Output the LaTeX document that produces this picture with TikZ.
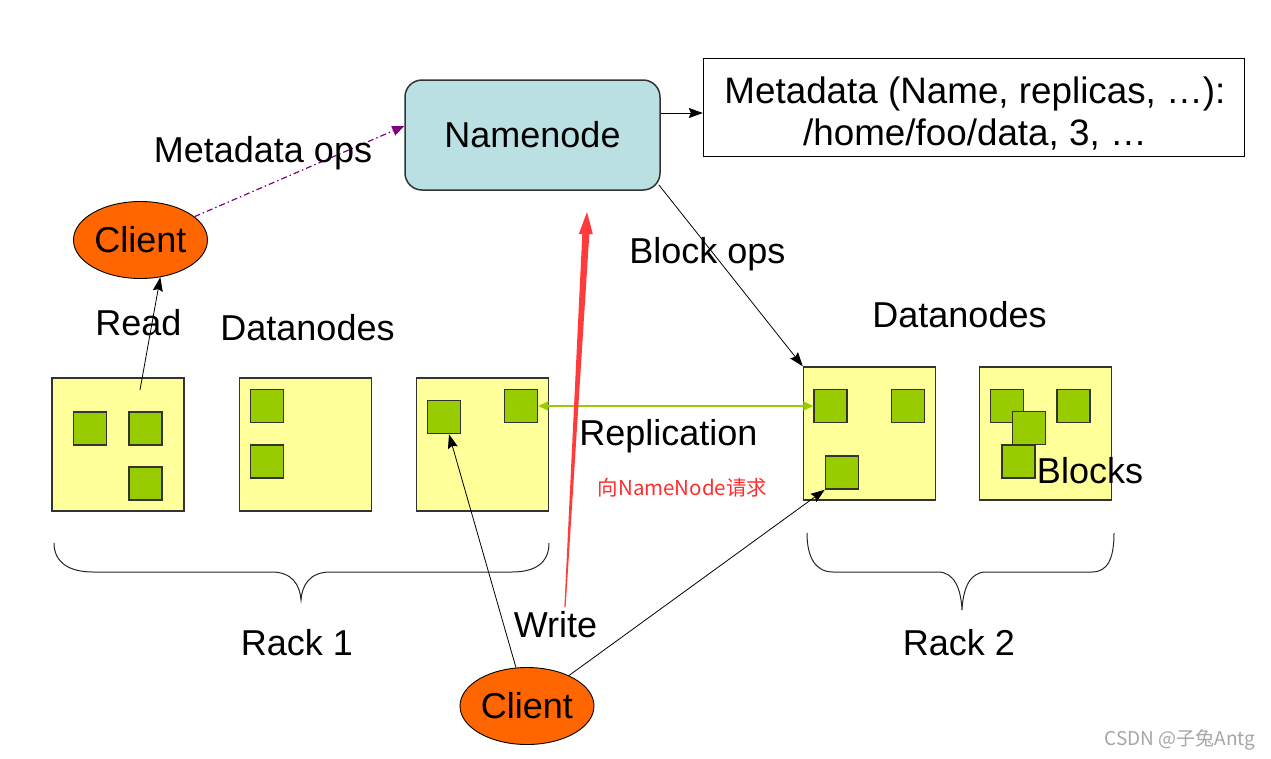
\documentclass[tikz,border=0pt]{standalone}
\usepackage{fontspec}
\setmainfont{Liberation Sans}
\newfontfamily\cjk{Noto Sans CJK SC}
\usetikzlibrary{arrows.meta,shapes.geometric,calc}
\definecolor{nnfill}{HTML}{BBE0E3}
\definecolor{ybox}{HTML}{FFFF99}
\definecolor{gblk}{HTML}{99CC00}
\definecolor{orng}{HTML}{FF6600}
\definecolor{edgec}{HTML}{333333}
\definecolor{purp}{HTML}{800080}
\definecolor{gline}{HTML}{99CC00}
\definecolor{redarr}{HTML}{FF3B3B}
\definecolor{redtxt}{HTML}{FF2D2D}
\definecolor{wm}{HTML}{A6A6A6}
\begin{document}
\begin{tikzpicture}[x=1pt,y=-1pt,
  big/.style={font=\fontsize{36}{42}\selectfont, inner sep=0pt, anchor=base},
  mdtext/.style={font=\fontsize{36.8}{42}\selectfont, inner sep=0pt, anchor=base},
  nnbox/.style={draw=edgec, line width=1.5pt, fill=nnfill, rounded corners=17pt,
    minimum width=255pt, minimum height=110pt, inner sep=0pt, font=\fontsize{36}{42}\selectfont},
  mdbox/.style={draw=black, line width=1.3pt, fill=white, minimum width=541pt, minimum height=98pt, inner sep=0pt},
  rackbox/.style={draw=edgec, line width=1.5pt, fill=ybox, minimum width=132pt, minimum height=133pt, inner sep=0pt},
  blk/.style={draw=edgec, line width=1.5pt, fill=gblk, minimum size=33pt, inner sep=0pt},
  client/.style={ellipse, draw=black, line width=0.9pt, fill=orng, minimum width=134pt,
    minimum height=77pt, inner sep=0pt, font=\fontsize{36}{42}\selectfont},
  conn/.style={line width=0.8pt, -{Stealth[length=14pt,width=10pt,inset=2pt]}},
  mops/.style={purp, line width=1.2pt, dash pattern=on 6pt off 3pt on 1.5pt off 3pt,
    -{Triangle[length=12pt,width=10pt]}},
  repl/.style={gline, line width=2pt, {Triangle[length=10pt,width=9pt]}-{Triangle[length=10pt,width=9pt]}},
  brace/.style={line width=1pt, black!85},
]
\fill[white] (0,0) rectangle (1271,758);
\useasboundingbox (0,0) rectangle (1271,758);

% Namenode and metadata
\node[nnbox] (nn) at (532.5,135) {Namenode};
\node[mdbox] (md) at (974,107.5) {};
\node[mdtext] (md1) at (975,103) {Metadata (Name, replicas, …):};
\node[mdtext] (md2) at (975,145) {/home/foo/data, 3, …};
\coordinate (nnr) at ($(nn.east)+(0,-22)$);
\draw[conn] (nnr) -- (nnr -| md.west);

% Rack boxes
\node[rackbox] (b1) at (118,444.5) {};
\node[rackbox] (b2) at (305.5,444.5) {};
\node[rackbox] (b3) at (482.5,444.5) {};
\node[rackbox] (b4) at (869.5,433.5) {};
\node[rackbox] (b5) at (1045.5,433.5) {};

% Blocks
\node[blk] (s1a) at (90,428.5) {};
\node[blk] (s1b) at (145.5,428.5) {};
\node[blk] (s1c) at (145.5,483.5) {};
\node[blk] (s2a) at (267,406) {};
\node[blk] (s2b) at (267,461.5) {};
\node[blk] (s3a) at (444,417) {};
\node[blk] (s3b) at (521,406) {};
\node[blk] (s4a) at (830.5,406) {};
\node[blk] (s4b) at (908,406) {};
\node[blk] (s4c) at (842,472.5) {};
\node[blk] (s5a) at (1007,406) {};
\node[blk] (s5b) at (1073.5,406) {};
\node[blk] (s5d) at (1018.5,461.5) {};
\node[blk] (s5c) at (1029,428) {};

% Clients
\node[client] (c1) at (140.5,240) {Client};
\node[client] (c2) at (527,706) {Client};

% Metadata ops
\coordinate (nnl) at ($(nn.west)+(0,-9)$);
\draw[mops] (c1) -- (nnl);
\node[big] (lmo) at (263,162) {Metadata ops};

% Read
\coordinate (rs) at (140,390);
\draw[conn] (rs) -- (c1.-62);
\node[big] (lread) at (138.5,335) {Read};

% Block ops
\coordinate (nnbr) at ($(nn.south east)+(-2,-6)$);
\draw[conn] (nnbr) -- (b4.north west);
\node[big] (lbo) at (707.5,263) {Block ops};

% Replication
\draw[repl] (s3b.east) -- (s4a.west);
\node[big] (lrep) at (668.5,445) {Replication};

% Write
\coordinate (w1) at ($(s3a.south)+(5,0)$);
\draw[conn] (c2) -- (w1);
\draw[conn] (c2) -- (s4c.south west);
\node[big] (lwr) at (555.5,637) {Write};

% Red request arrow
\coordinate (rb) at (565,607);
\coordinate (rt) at (587,212);
\fill[redarr] (564.4,607) -- (582.3,234) -- (578.8,234) -- (rt) -- (592.8,234) -- (589.3,234) -- (565.6,607) -- cycle;
\node[font=\cjk\fontsize{20.5}{24}\selectfont, text=redtxt, inner sep=0pt, anchor=base] (lreq) at (682.5,495.5) {向NameNode请求};

% Labels
\node[big] (ldl) at (307.5,340) {Datanodes};
\node[big] (ldr) at (959.5,327) {Datanodes};
\node[big] (lblk) at (1090,483) {Blocks};

% Braces
\draw[brace] (54,543) .. controls (54,563) and (70,572) .. (93,572) -- (272,572)
  .. controls (292,572) and (300,585) .. (301,600)
  .. controls (302,585) and (310,572) .. (330,572) -- (512,572)
  .. controls (535,572) and (549,563) .. (549,543);
\draw[brace] (807,533) .. controls (807,558) and (816,572) .. (833,572) -- (938,572)
  .. controls (955,572) and (961,590) .. (962,610)
  .. controls (963,590) and (969,572) .. (986,572) -- (1092,572)
  .. controls (1108,572) and (1114,558) .. (1114,533);
\node[big] (lr1) at (297,655) {Rack 1};
\node[big] (lr2) at (959,655) {Rack 2};

% Watermark
\node[font=\cjk\fontsize{19}{21}\selectfont, text=wm, inner sep=0pt, anchor=base] (wmk) at (1180,745) {CSDN @子兔Antg};
\end{tikzpicture}
\end{document}
